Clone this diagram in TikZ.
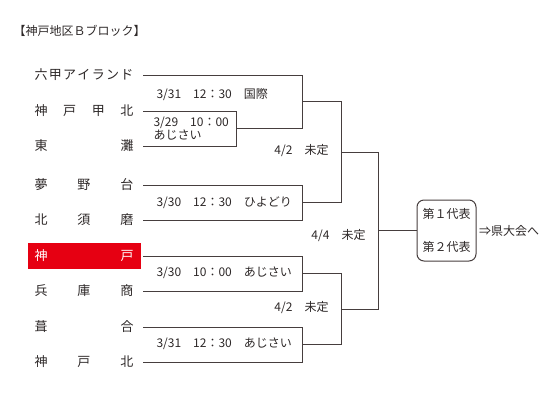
\documentclass[tikz,border=0pt]{standalone}
\usepackage{fontspec}
\setmainfont{Noto Sans CJK JP}
\usepackage{xcolor}
\usepackage{tikz}
\usetikzlibrary{positioning}

\definecolor{lncol}{RGB}{70,62,62}
\definecolor{txtcol}{RGB}{45,40,40}
\definecolor{kobered}{RGB}{230,0,18}
\newcommand{\spreadname}[1]{\makebox[99pt]{#1}}

\begin{document}
\begin{tikzpicture}[x=1pt, y=-1pt, line width=1pt, color=lncol, text=txtcol,
    team/.style={anchor=west, inner xsep=7pt, inner ysep=0pt, minimum height=26pt, font=\fontsize{13}{13}\selectfont},
    winner/.style={team, fill=kobered, text=white},
    match/.style={anchor=west, inner sep=0pt, align=left, font=\fontsize{12}{11.5}\selectfont},
    roundlbl/.style={anchor=east, inner sep=0pt, font=\fontsize{12}{12}\selectfont},
    final/.style={draw, rounded corners=7pt, minimum width=59pt, minimum height=61pt, inner sep=0pt, align=center, font=\fontsize{12}{33}\selectfont}]

    \useasboundingbox (0,0) rectangle (560,400);

    % Nodes
    \node (title) [anchor=west, inner sep=0pt, font=\fontsize{12}{12}\selectfont] at (13,31) {【神戸地区Ｂブロック】};
    \node (t1) [team] at (27,75) {\spreadname{六\hfill 甲\hfill ア\hfill イ\hfill ラ\hfill ン\hfill ド}};
    \node (t2) [team] at (27,111) {\spreadname{神\hfill 戸\hfill 甲\hfill 北}};
    \node (t3) [team] at (27,146) {\spreadname{東\hfill 灘}};
    \node (t4) [team] at (27,185) {\spreadname{夢\hfill 野\hfill 台}};
    \node (t5) [team] at (27,220) {\spreadname{北\hfill 須\hfill 磨}};
    \node (t6) [winner] at (27,256) {\spreadname{神\hfill 戸}};
    \node (t7) [team] at (27,291) {\spreadname{兵\hfill 庫\hfill 商}};
    \node (t8) [team] at (27,327) {\spreadname{葺\hfill 合}};
    \node (t9) [team] at (27,362) {\spreadname{神\hfill 戸\hfill 北}};

    \coordinate (m1) at (236,128.5);
    \coordinate (m2) at (302,101.75);
    \coordinate (m3) at (302,202.5);
    \coordinate (m4) at (302,273.5);
    \coordinate (m5) at (302,344.5);
    \coordinate (s1) at (341,152);
    \coordinate (s2) at (341,309);
    \coordinate (f) at (378,230.5);

    \node (rep) [final] at (446.5,230.5) {第１代表\\第２代表};
    \node (goal) [right=2pt of rep, inner sep=0pt, font=\fontsize{12}{12}\selectfont] {⇒県大会へ};

    \node (g1) [match] at (156,95) {3/31　12：30　国際};
    \node (g0) [match] at (153,128.5) {3/29　10：00\\あじさい};
    \node (g2) [match] at (156,203) {3/30　12：30　ひよどり};
    \node (g3) [match] at (156,273) {3/30　10：00　あじさい};
    \node (g4) [match] at (156,344) {3/31　12：30　あじさい};
    \node (r1) [roundlbl] at (329,151) {4/2　未定};
    \node (r2) [roundlbl] at (329,308) {4/2　未定};
    \node (r3) [roundlbl] at (366,236) {4/4　未定};

    % Links
    \draw ([xshift=2pt]t2.east) -| (m1);
    \draw ([xshift=2pt]t3.east) -| (m1);
    \draw ([xshift=2pt]t1.east) -| (m2);
    \draw (m1) -| (m2);
    \draw ([xshift=2pt]t4.east) -| (m3);
    \draw ([xshift=2pt]t5.east) -| (m3);
    \draw ([xshift=2pt]t6.east) -| (m4);
    \draw ([xshift=2pt]t7.east) -| (m4);
    \draw ([xshift=2pt]t8.east) -| (m5);
    \draw ([xshift=2pt]t9.east) -| (m5);
    \draw (m2) -| (s1);
    \draw (m3) -| (s1);
    \draw (m4) -| (s2);
    \draw (m5) -| (s2);
    \draw (s1) -| (f);
    \draw (s2) -| (f);
    \draw (f) -- (rep);
\end{tikzpicture}
\end{document}
